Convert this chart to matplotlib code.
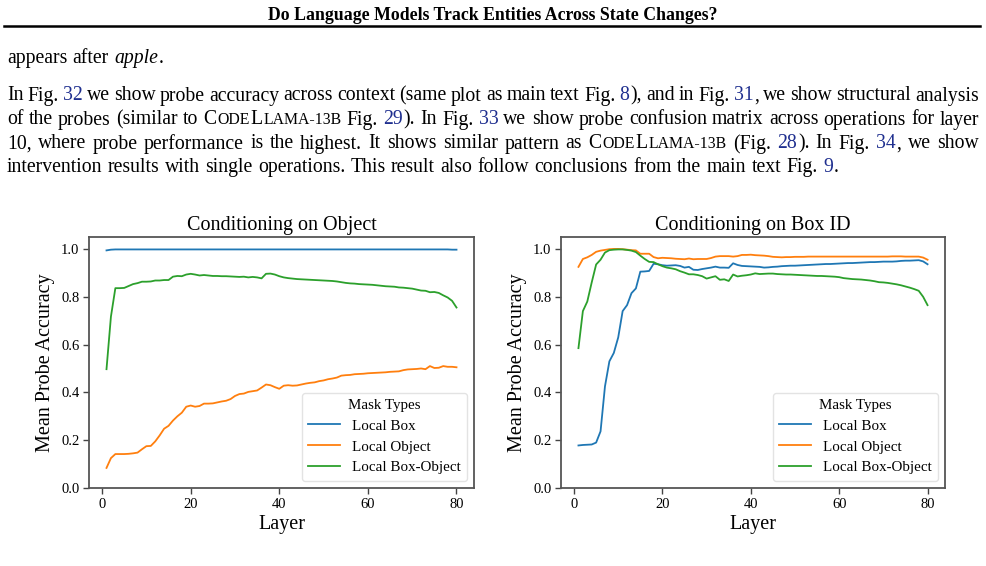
import matplotlib
matplotlib.use("Agg")
import matplotlib.pyplot as plt

plt.rcParams['font.family'] = ['Liberation Serif', 'DejaVu Serif']

# ---------------- data ----------------
layers = list(range(1, 81))

obj_local_box = [0.994, 0.997, 0.998, 0.998, 0.998, 0.998, 0.998, 0.998, 0.998, 0.998,
                 0.998, 0.998, 0.998, 0.998, 0.998, 0.998, 0.998, 0.998, 0.998, 0.998,
                 0.998, 0.998, 0.998, 0.998, 0.998, 0.998, 0.998, 0.998, 0.998, 0.998,
                 0.998, 0.998, 0.998, 0.998, 0.998, 0.998, 0.998, 0.998, 0.998, 0.998,
                 0.998, 0.998, 0.998, 0.998, 0.998, 0.998, 0.998, 0.998, 0.998, 0.998,
                 0.998, 0.998, 0.998, 0.998, 0.998, 0.998, 0.998, 0.998, 0.998, 0.998,
                 0.998, 0.998, 0.998, 0.998, 0.998, 0.998, 0.998, 0.998, 0.998, 0.998,
                 0.998, 0.998, 0.998, 0.998, 0.998, 0.998, 0.998, 0.998, 0.997, 0.997]

obj_local_object = [0.084, 0.125, 0.142, 0.142, 0.142, 0.143, 0.145, 0.148, 0.162, 0.175,
                    0.176, 0.195, 0.220, 0.248, 0.260, 0.282, 0.300, 0.315, 0.340, 0.345,
                    0.340, 0.343, 0.353, 0.353, 0.354, 0.358, 0.362, 0.365, 0.372, 0.385,
                    0.393, 0.395, 0.402, 0.405, 0.408, 0.420, 0.433, 0.430, 0.422, 0.415,
                    0.428, 0.430, 0.428, 0.429, 0.433, 0.437, 0.440, 0.442, 0.447, 0.450,
                    0.455, 0.458, 0.462, 0.470, 0.472, 0.473, 0.476, 0.477, 0.478, 0.480,
                    0.481, 0.482, 0.483, 0.484, 0.486, 0.487, 0.488, 0.493, 0.496, 0.497,
                    0.498, 0.500, 0.497, 0.510, 0.502, 0.503, 0.510, 0.507, 0.507, 0.505]

obj_local_box_object = [0.497, 0.717, 0.836, 0.836, 0.837, 0.845, 0.853, 0.857, 0.863, 0.863,
                        0.864, 0.868, 0.868, 0.870, 0.870, 0.884, 0.887, 0.886, 0.893, 0.896,
                        0.893, 0.889, 0.891, 0.889, 0.887, 0.887, 0.886, 0.886, 0.885, 0.884,
                        0.883, 0.884, 0.881, 0.883, 0.881, 0.877, 0.896, 0.897, 0.893, 0.886,
                        0.881, 0.878, 0.876, 0.874, 0.873, 0.872, 0.871, 0.870, 0.869, 0.868,
                        0.867, 0.866, 0.864, 0.861, 0.858, 0.856, 0.855, 0.853, 0.852, 0.851,
                        0.850, 0.848, 0.846, 0.844, 0.843, 0.842, 0.839, 0.838, 0.836, 0.834,
                        0.830, 0.826, 0.825, 0.819, 0.820, 0.816, 0.806, 0.797, 0.783, 0.755]

box_local_box = [0.178, 0.180, 0.181, 0.182, 0.190, 0.237, 0.425, 0.530, 0.565, 0.630,
                 0.740, 0.765, 0.815, 0.835, 0.905, 0.906, 0.908, 0.938, 0.936, 0.932,
                 0.930, 0.931, 0.932, 0.929, 0.922, 0.925, 0.913, 0.912, 0.916, 0.919,
                 0.922, 0.926, 0.922, 0.922, 0.921, 0.940, 0.933, 0.929, 0.928, 0.927,
                 0.926, 0.925, 0.922, 0.923, 0.925, 0.926, 0.928, 0.929, 0.930, 0.930,
                 0.931, 0.932, 0.933, 0.934, 0.935, 0.936, 0.937, 0.937, 0.938, 0.939,
                 0.940, 0.941, 0.941, 0.942, 0.943, 0.944, 0.945, 0.945, 0.946, 0.947,
                 0.947, 0.947, 0.948, 0.950, 0.951, 0.951, 0.952, 0.953, 0.948, 0.936]

box_local_object = [0.925, 0.958, 0.965, 0.975, 0.988, 0.993, 0.996, 0.999, 1.000, 1.000,
                    0.999, 0.997, 0.995, 0.994, 0.980, 0.980, 0.980, 0.966, 0.961, 0.963,
                    0.962, 0.961, 0.959, 0.958, 0.957, 0.960, 0.957, 0.958, 0.958, 0.958,
                    0.962, 0.968, 0.970, 0.970, 0.970, 0.968, 0.970, 0.975, 0.975, 0.976,
                    0.974, 0.973, 0.972, 0.970, 0.967, 0.966, 0.965, 0.966, 0.966, 0.967,
                    0.967, 0.967, 0.968, 0.968, 0.968, 0.968, 0.968, 0.968, 0.968, 0.968,
                    0.968, 0.968, 0.968, 0.968, 0.968, 0.968, 0.968, 0.968, 0.968, 0.968,
                    0.968, 0.969, 0.969, 0.969, 0.968, 0.968, 0.968, 0.968, 0.964, 0.955]

box_local_box_object = [0.585, 0.740, 0.780, 0.860, 0.935, 0.955, 0.985, 0.995, 0.997, 0.998,
                        0.998, 0.996, 0.993, 0.987, 0.972, 0.958, 0.946, 0.945, 0.936, 0.928,
                        0.922, 0.919, 0.915, 0.907, 0.901, 0.894, 0.894, 0.891, 0.886, 0.876,
                        0.881, 0.886, 0.871, 0.873, 0.866, 0.893, 0.885, 0.888, 0.890, 0.893,
                        0.898, 0.895, 0.896, 0.897, 0.897, 0.895, 0.894, 0.893, 0.893, 0.892,
                        0.891, 0.890, 0.889, 0.888, 0.887, 0.887, 0.886, 0.885, 0.884, 0.882,
                        0.878, 0.876, 0.874, 0.873, 0.872, 0.870, 0.868, 0.865, 0.861, 0.860,
                        0.858, 0.855, 0.852, 0.848, 0.843, 0.838, 0.832, 0.825, 0.800, 0.765]

series_labels = ["Local Box", "Local Object", "Local Box-Object"]
panel_titles = ["Conditioning on Object", "Conditioning on Box ID"]
x_ticks = [0, 20, 40, 60, 80]
y_ticks = [0.0, 0.2, 0.4, 0.6, 0.8, 1.0]

# ---------------- figure ----------------
W, H = 986, 566
fig = plt.figure(figsize=(W / 100, H / 100), dpi=100)
renderer = fig.canvas.get_renderer()

def fx(x):
    return x / W

def fy(y):
    return 1 - y / H

# header
fig.text(fx(493), fy(20), "Do Language Models Track Entities Across State Changes?",
         ha='center', va='baseline', fontsize=12.8, fontweight='bold')
fig.add_artist(plt.Line2D([fx(4), fx(980)], [fy(25.5), fy(25.5)], color='black', lw=1.8,
                          transform=fig.transFigure))

BODY = 14.2
LINK = '#1f2f8f'
SC = 0.8

def N(t):
    return (t, dict(fontsize=BODY, color='black'))

def L(t):
    return (t, dict(fontsize=BODY, color=LINK))

def I(t):
    return (t, dict(fontsize=BODY, color='black', style='italic'))

def S(t):
    return (t, dict(fontsize=BODY * SC, color='black'))

codellama = [N("C"), S("ODE"), N("L"), S("LAMA-13B")]

def words_from(s):
    return [[N(w)] for w in s.split()]

def draw_line(yb, words, x0=7, x1=979, justify=True):
    placed = []
    widths = []
    for w in words:
        frs = []
        tot = 0
        for t, kw in w:
            tx = fig.text(0, fy(yb), t, ha='left', va='baseline', **kw)
            wd = tx.get_window_extent(renderer).width
            frs.append((tx, wd))
            tot += wd + 0.8
        placed.append(frs)
        widths.append(tot - 0.8)
    if justify and len(words) > 1:
        gap = (x1 - x0 - sum(widths)) / (len(words) - 1)
    else:
        gap = 0.27 * BODY * 100 / 72
    x = x0
    for frs, wd in zip(placed, widths):
        xx = x
        for tx, fw in frs:
            tx.set_x(fx(xx))
            xx += fw + 0.8
        x += wd + gap

draw_line(63, [[N("appears")], [N("after")], [I("apple"), N(".")]], justify=False)

line1 = ([[N("In")], [N("Fig.")], [L("32")]] + words_from("we show probe accuracy across context (same plot as main text")
         + [[N("Fig.")], [L("8"), N("),")], [N("and")], [N("in")], [N("Fig.")], [L("31"), N(",")]]
         + words_from("we show structural analysis"))
line2 = (words_from("of the probes (similar to") + [codellama, [N("Fig.")], [L("29"), N(").")],
         [N("In")], [N("Fig.")], [L("33")]] + words_from("we show probe confusion matrix across operations for layer"))
line3 = (words_from("10, where probe performance is the highest. It shows similar pattern as")
         + [codellama, [N("(Fig.")], [L("28"), N(").")], [N("In")], [N("Fig.")], [L("34"), N(",")]]
         + words_from("we show"))
line4 = (words_from("intervention results with single operations. This result also follow conclusions from the main text")
         + [[N("Fig.")], [L("9"), N(".")]])

draw_line(100.5, line1)
draw_line(124.5, line2)
draw_line(148.5, line3)
draw_line(172.5, line4, justify=False)

# ---------------- axes ----------------
colors = ['#1f77b4', '#ff7f0e', '#2ca02c']
panels = [
    (fig.add_axes([fx(89), fy(488), 385 / W, 251 / H]),
     [obj_local_box, obj_local_object, obj_local_box_object], panel_titles[0]),
    (fig.add_axes([fx(561), fy(488), 384 / W, 251 / H]),
     [box_local_box, box_local_object, box_local_box_object], panel_titles[1]),
]

for ax, series, title in panels:
    for vals, lab, c in zip(series, series_labels, colors):
        ax.plot(layers, vals, color=c, lw=1.3, label=lab)
    ax.set_ylim(0, 1.05)
    ax.set_xticks(x_ticks)
    ax.set_yticks(y_ticks)
    ax.set_yticklabels([f"{v:.1f}" for v in y_ticks])
    ax.tick_params(labelsize=10.5, length=4, width=1.0, color='#444444', pad=3)
    for sp in ax.spines.values():
        sp.set_color('#555555')
        sp.set_linewidth(1.3)
    ax.set_title(title, fontsize=14.5, pad=5)
    ax.set_xlabel("Layer", fontsize=14.5, labelpad=3)
    ax.set_ylabel("Mean Probe Accuracy", fontsize=14.5, labelpad=4)
    leg = ax.legend(title="Mask Types", loc='lower right', fontsize=10.8, title_fontsize=10.8,
                    framealpha=0.8, edgecolor='#dddddd', handlelength=2.1)

fig.savefig("out.png", dpi=100)
